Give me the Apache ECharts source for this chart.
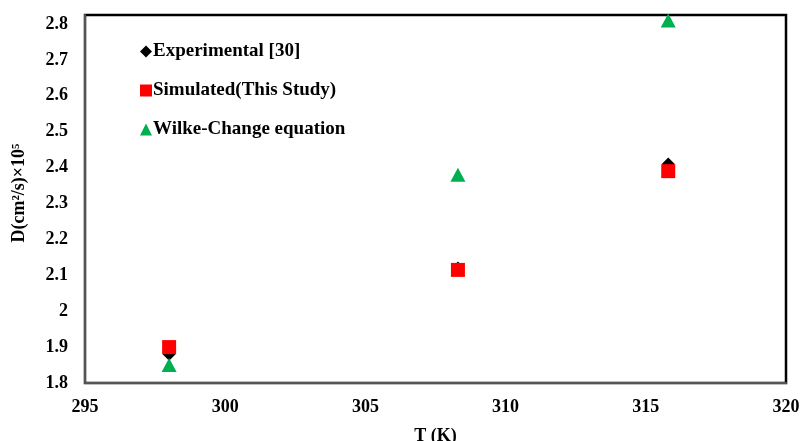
<!DOCTYPE html>
<html>
<head>
<meta charset="utf-8">
<script src="https://cdn.jsdelivr.net/npm/echarts@6/dist/echarts.min.js"></script>
<style>
html,body{margin:0;padding:0;background:#fff;}
#chart{width:801px;height:441px;}
</style>
</head>
<body>
<div id="chart"></div>
<script>
// Diffusion coefficient vs temperature
const temperatures = [298.0, 308.3, 315.8];
const experimental = [1.88, 2.12, 2.41];
const simulated = [1.90, 2.115, 2.39];
const wilkeChang = [1.85, 2.38, 2.81];

const seriesNames = ['Experimental [30]', 'Simulated(This Study)', 'Wilke-Change equation'];
const xTicks = [295, 300, 305, 310, 315, 320];
const yTicks = [1.8, 1.9, 2, 2.1, 2.2, 2.3, 2.4, 2.5, 2.6, 2.7, 2.8];

const font = 'Liberation Serif';
const pairs = (xs, ys) => xs.map((x, i) => [x, ys[i]]);

const chart = echarts.init(document.getElementById('chart'), null, {renderer: 'canvas'});
chart.setOption({
  animation: false,
  backgroundColor: '#fff',
  grid: {
    left: 85, right: 15, top: 15, bottom: 58,
    containLabel: false, outerBoundsMode: 'none',
    show: true, borderColor: '#000', borderWidth: 2.5, backgroundColor: '#fff'
  },
  legend: {
    orient: 'vertical',
    left: 135, top: 37,
    itemGap: 20,
    itemWidth: 12, itemHeight: 12,
    textStyle: {fontFamily: font, fontWeight: 'bold', fontSize: 19, color: '#000', padding: [0, 0, 0, -4]},
    data: seriesNames
  },
  xAxis: {
    type: 'value',
    min: 295, max: 320, interval: 5,
    axisLine: {show: true, lineStyle: {color: '#555', width: 2}},
    axisTick: {show: false},
    splitLine: {show: false},
    axisLabel: {
      fontFamily: font, fontWeight: 'bold', fontSize: 18, color: '#000', margin: 15,
      formatter: v => xTicks.includes(v) ? String(v) : ''
    },
    name: 'T (K)', nameLocation: 'middle', nameGap: 44,
    nameTextStyle: {fontFamily: font, fontWeight: 'bold', fontSize: 18, color: '#000'}
  },
  yAxis: {
    type: 'value',
    min: 1.8, max: 2.825, interval: 0.1,
    axisLine: {show: true, lineStyle: {color: '#555', width: 2}},
    axisTick: {show: false},
    splitLine: {show: false},
    axisLabel: {
      fontFamily: font, fontWeight: 'bold', fontSize: 18, color: '#000', margin: 17,
      showMaxLabel: false,
      formatter: v => {
        const t = yTicks.find(k => Math.abs(k - v) < 1e-6);
        return t === undefined ? '' : String(t);
      }
    },
    name: 'D(cm²/s)×10⁵', nameLocation: 'middle', nameGap: 57, nameRotate: 90,
    nameTextStyle: {fontFamily: font, fontWeight: 'bold', fontSize: 18, color: '#000', padding: [0, 0, 0, 12]}
  },
  series: [
    {
      name: seriesNames[0], type: 'scatter', symbol: 'diamond', symbolSize: 13,
      itemStyle: {color: '#000', opacity: 1}, data: pairs(temperatures, experimental), z: 2
    },
    {
      name: seriesNames[1], type: 'scatter', symbol: 'rect', symbolSize: 14,
      itemStyle: {color: '#ff0000', opacity: 1}, data: pairs(temperatures, simulated), z: 3
    },
    {
      name: seriesNames[2], type: 'scatter', symbol: 'triangle', symbolSize: [15, 14],
      itemStyle: {color: '#00b050', opacity: 1}, data: pairs(temperatures, wilkeChang), z: 4
    }
  ]
});
</script>
</body>
</html>
